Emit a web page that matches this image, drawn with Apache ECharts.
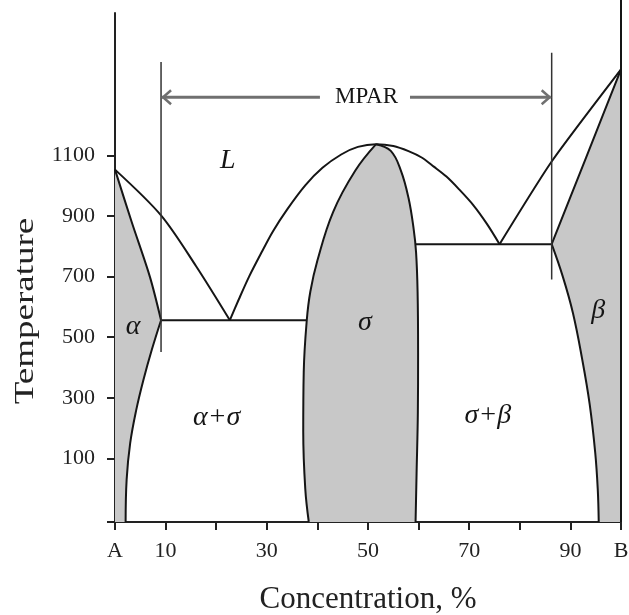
<!DOCTYPE html>
<html>
<head>
<meta charset="utf-8">
<script src="https://cdn.jsdelivr.net/npm/echarts@6/dist/echarts.min.js"></script>
<style>
  html, body { margin: 0; padding: 0; background: #fff; }
  #chart { width: 629px; height: 615px; }
</style>
</head>
<body>
<div id="chart"></div>
<script>
// Axis ticks and labels
const xLabelValues = [0, 10, 30, 50, 70, 90, 100];
const xLabelNames = { 0: 'A', 100: 'B' };
const yLabelValues = [100, 300, 500, 700, 900, 1100];
const yTickValues = [-110, 100, 300, 500, 700, 900, 1100];

// Phase boundaries as [concentration %, temperature]
const liquidusA = [[0, 1053], [9.1, 902], [16, 735], [22.7, 556]];
const alphaSolidus = [[0, 1053], [3.3, 880], [6.9, 699], [9.1, 556]];
const alphaSolvus = [[9.1, 556], [7.3, 460], [5.6, 358], [4.2, 260], [3.0, 150], [2.3, 30], [2.1, -110]];
const liquidusDome = [[22.7, 556], [24.5, 626], [26.5, 700], [29, 781], [31.2, 849], [34, 921], [37.6, 1001],
                      [41, 1059], [44.7, 1103], [48, 1128], [51.6, 1137], [55, 1131], [58, 1114], [60.6, 1093],
                      [63, 1063], [65.5, 1030], [68, 988], [70.8, 936], [73.5, 874], [76, 807]];
const sigmaLeft = [[51.6, 1137], [47.5, 1050], [43.1, 913], [40, 753], [38.6, 650], [37.9, 556], [37.3, 385],
                   [37.2, 188], [37.6, 0], [38.3, -110]];
const sigmaRight = [[51.6, 1137], [54.5, 1115], [56.5, 1050], [58, 960], [59, 860], [59.5, 780], [59.8, 650],
                    [59.9, 450], [59.85, 250], [59.6, 50], [59.4, -110]];
const liquidusB = [[76, 807], [86.3, 1080], [100, 1384]];
const betaSolidus = [[86.3, 807], [93.1, 1093], [100, 1384]];
const betaSolvus = [[86.3, 807], [88.5, 700], [90.5, 580], [92.3, 430], [93.8, 280], [94.9, 120], [95.4, 0], [95.6, -110]];
const eutecticAlphaSigma = [[9.1, 556], [37.9, 556]];
const eutecticSigmaBeta = [[59.4, 807], [86.3, 807]];
const sideB = [[100, -110], [100, 1613]];

// MPAR range markers
const mparLeftBar = [[9.1, 451], [9.1, 1408]];
const mparRightBar = [[86.3, 690], [86.3, 1439]];
const mparSpan = [9.1, 86.3];
const mparGap = [40.5, 58.3];
const mparTemp = 1292;

// Region names placed at [name, concentration, temperature]
const phaseLabels = [
  ['L', 22.3, 1083], ['α', 3.6, 534], ['σ', 49.4, 549], ['β', 95.5, 586],
  ['α+σ', 20.1, 233], ['σ+β', 73.7, 240]
];
const mparLabel = ['MPAR', 49.7, 1292];

// Single-phase (shaded) fields
const alphaField = [...alphaSolidus, ...alphaSolvus.slice(1), [0, -110]];
const sigmaField = [...sigmaLeft, ...sigmaRight.slice().reverse().slice(0, -1)];
const betaField = [[100, 1384], ...betaSolidus.slice().reverse().slice(1), ...betaSolvus.slice(1), [100, -110]];
const shadedFields = [alphaField, sigmaField, betaField];

const INK = '#151515';
const SHADE = '#c8c8c8';
const SERIF = '"Liberation Serif", "Times New Roman", serif';

function boundary(data, smooth) {
  return {
    type: 'line', data: data, showSymbol: false, smooth: smooth || 0,
    lineStyle: { color: INK, width: 2 }, z: 3, silent: true, animation: false
  };
}

const chart = echarts.init(document.getElementById('chart'), null, { renderer: 'canvas' });

chart.setOption({
  animation: false,
  backgroundColor: '#fff',
  grid: { left: 115, right: 8, top: 13, bottom: 93, containLabel: false, outerBoundsMode: 'none' },
  xAxis: {
    type: 'value', min: 0, max: 100, interval: 10,
    axisLine: { onZero: false, lineStyle: { color: '#222', width: 2 } },
    axisTick: { length: 8, lineStyle: { color: '#222', width: 2 } },
    axisLabel: {
      customValues: xLabelValues, margin: 18,
      formatter: v => (xLabelNames[v] !== undefined ? xLabelNames[v] : String(v)),
      fontFamily: SERIF, fontSize: 22, color: '#222'
    },
    splitLine: { show: false },
    name: 'Concentration, %', nameLocation: 'middle', nameGap: 78,
    nameTextStyle: { fontFamily: SERIF, fontSize: 31, color: '#222', verticalAlign: 'middle' }
  },
  yAxis: {
    type: 'value', min: -110, max: 1570,
    axisLine: { lineStyle: { color: '#222', width: 2 } },
    axisTick: { length: 8, customValues: yTickValues, lineStyle: { color: '#222', width: 2 } },
    axisLabel: {
      customValues: yLabelValues, margin: 20, formatter: v => String(v),
      fontFamily: SERIF, fontSize: 22, color: '#222'
    },
    splitLine: { show: false }
  },
  graphic: [{
    type: 'text', x: 26, y: 311, rotation: Math.PI / 2, scaleY: 0.72,
    style: {
      text: 'Temperature', fontFamily: SERIF, fontSize: 37, fill: '#222',
      align: 'center', verticalAlign: 'middle'
    }
  }],
  series: [
    {
      type: 'custom', name: 'fields', z: 1, silent: true,
      data: shadedFields.map((f, i) => [f[0][0], f[0][1], i]),
      renderItem: (params, api) => {
        const pts = shadedFields[params.dataIndex].map(p => api.coord(p));
        return { type: 'polygon', shape: { points: pts }, style: { fill: SHADE } };
      }
    },
    boundary(liquidusA, 0.3),
    boundary(alphaSolidus, 0.3),
    boundary(alphaSolvus, 0.4),
    boundary(liquidusDome, 0.3),
    boundary(sigmaLeft, 0.4),
    boundary(sigmaRight, 0.4),
    boundary(liquidusB, 0.2),
    boundary(betaSolidus, 0.2),
    boundary(betaSolvus, 0.4),
    boundary(eutecticAlphaSigma),
    boundary(eutecticSigmaBeta),
    Object.assign(boundary(sideB), { clip: false }),
    {
      type: 'line', data: mparLeftBar, showSymbol: false, silent: true, z: 4,
      lineStyle: { color: '#333', width: 1.5 }
    },
    {
      type: 'line', data: mparRightBar, showSymbol: false, silent: true, z: 4,
      lineStyle: { color: '#333', width: 1.5 }
    },
    {
      type: 'custom', name: 'mpar', z: 5, silent: true,
      data: [[mparSpan[0], mparTemp], [mparSpan[1], mparTemp]],
      renderItem: (params, api) => {
        if (params.dataIndex !== 0) return null;
        const a = api.coord([mparSpan[0], mparTemp]);
        const g1 = api.coord([mparGap[0], mparTemp]);
        const g2 = api.coord([mparGap[1], mparTemp]);
        const b = api.coord([mparSpan[1], mparTemp]);
        const st = { stroke: '#707070', lineWidth: 3, fill: null };
        const head = Object.assign({}, st, { lineWidth: 2.5 });
        return {
          type: 'group',
          children: [
            { type: 'line', shape: { x1: a[0] + 1, y1: a[1], x2: g1[0], y2: g1[1] }, style: st },
            { type: 'line', shape: { x1: g2[0], y1: g2[1], x2: b[0] - 1, y2: b[1] }, style: st },
            { type: 'polyline', shape: { points: [[a[0] + 10, a[1] - 7], [a[0] + 2, a[1]], [a[0] + 10, a[1] + 7]] }, style: head },
            { type: 'polyline', shape: { points: [[b[0] - 10, b[1] - 7], [b[0] - 2, b[1]], [b[0] - 10, b[1] + 7]] }, style: head }
          ]
        };
      }
    },
    {
      type: 'custom', name: 'labels', z: 6, silent: true,
      data: phaseLabels.map(d => [d[1], d[2]]).concat([[mparLabel[1], mparLabel[2]]]),
      renderItem: (params, api) => {
        const i = params.dataIndex;
        const isMpar = i === phaseLabels.length;
        const d = isMpar ? mparLabel : phaseLabels[i];
        const p = api.coord([d[1], d[2]]);
        return {
          type: 'text', x: p[0], y: p[1],
          style: {
            text: d[0], fill: '#151515', align: 'center', verticalAlign: 'middle',
            fontFamily: SERIF, fontSize: isMpar ? 23 : 28, fontStyle: isMpar ? 'normal' : 'italic'
          }
        };
      }
    }
  ]
});
</script>
</body>
</html>
